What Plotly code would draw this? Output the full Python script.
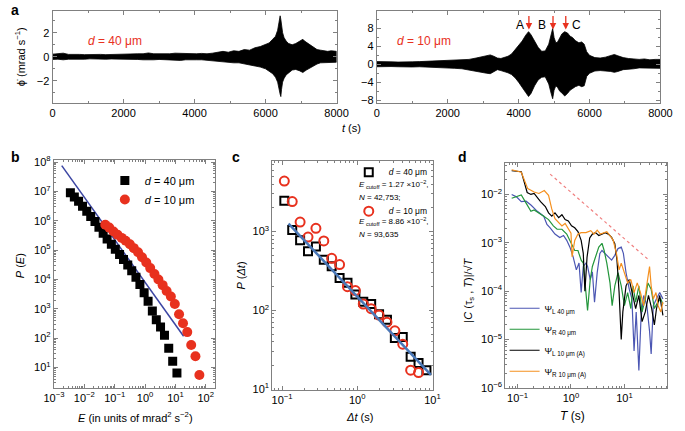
import numpy as np
import plotly.graph_objects as go

W, H = 685, 431
def px(x): return x / W
def py(y): return 1 - y / H

FONT = "Liberation Sans, Arial, Helvetica, sans-serif"
RED = "#e8311e"
FRAME = "#808080"

# ---------------- panel a : signal envelopes (mrad/s) ----------------
t_a40 = [0, 150, 300, 450, 600, 750, 900, 1050, 1200, 1350, 1500, 1650, 1800, 1950, 2100, 2250,
         2400, 2550, 2700, 2850, 3000, 3150, 3300, 3450, 3600, 3750, 3900, 4050, 4200, 4350, 4500,
         4650, 4800, 4950, 5100, 5250, 5400, 5550, 5700, 5850, 6000, 6100, 6200, 6280, 6340, 6380,
         6410, 6430, 6450, 6480, 6520, 6580, 6650, 6750, 6850, 6950, 7050, 7100, 7150, 7250, 7350,
         7450, 7550, 7650, 7750, 7850, 8000]
up_a40 = [0.22, 0.25, 0.3, 0.2, 0.22, 0.2, 0.18, 0.2, 0.17, 0.2, 0.18, 0.2, 0.2, 0.22, 0.2, 0.22,
          0.25, 0.25, 0.32, 0.25, 0.25, 0.22, 0.25, 0.3, 0.28, 0.25, 0.25, 0.25, 0.28, 0.25, 0.3,
          0.4, 0.45, 0.38, 0.5, 0.45, 0.6, 0.55, 0.75, 0.85, 1.0, 1.15, 1.45, 1.7, 2.2, 2.8,
          3.4, 3.1, 2.6, 2.0, 1.6, 1.3, 1.1, 1.0, 1.1, 1.25, 1.45, 1.3, 1.2, 0.95, 0.8,
          0.6, 0.55, 0.5, 0.45, 0.5, 0.45]
low_a40 = [-0.22, -0.2, -0.25, -0.2, -0.18, -0.2, -0.2, -0.17, -0.2, -0.18, -0.2, -0.18, -0.2, -0.2, -0.22, -0.2,
           -0.22, -0.25, -0.28, -0.25, -0.22, -0.25, -0.22, -0.28, -0.3, -0.25, -0.22, -0.25, -0.25, -0.25, -0.3,
           -0.35, -0.4, -0.45, -0.5, -0.5, -0.55, -0.65, -0.75, -0.85, -1.0, -1.2, -1.4, -1.7, -2.1, -2.7,
           -3.1, -3.3, -2.7, -2.1, -1.8, -1.5, -1.3, -1.1, -1.05, -1.15, -1.3, -1.2, -1.1, -0.9, -0.75,
           -0.6, -0.5, -0.5, -0.45, -0.45, -0.45]

t_a10 = [0, 200, 400, 600, 800, 1000, 1200, 1400, 1600, 1800, 2000, 2200, 2400, 2600, 2800, 2950,
         3100, 3200, 3300, 3400, 3500, 3600, 3700, 3800, 3900, 4000, 4100, 4200, 4280, 4350, 4450,
         4550, 4650, 4750, 4850, 4920, 4960, 5000, 5050, 5100, 5160, 5220, 5300, 5380, 5450, 5520,
         5600, 5700, 5780, 5850, 5920, 6000, 6150, 6300, 6450, 6600, 6700, 6800, 6950, 7100, 7250,
         7400, 7550, 7700, 7850, 8000]
up_a10 = [0.6, 0.5, 0.55, 0.5, 0.6, 0.55, 0.6, 0.65, 0.7, 0.75, 0.8, 0.9, 1.0, 1.1, 1.4, 1.7,
          1.9, 2.1, 1.8, 1.4, 1.3, 1.5, 1.8, 2.3, 3.2, 4.2, 5.2, 6.5, 7.3, 6.6, 5.2,
          3.8, 2.9, 3.0, 4.5, 6.5, 8.0, 6.0, 4.8, 5.0, 5.8, 6.8, 7.3, 7.0, 6.3, 6.0,
          5.3, 4.8, 5.0, 4.5, 2.8, 2.0, 1.5, 1.4, 1.6, 2.0, 2.2, 1.9, 1.5, 1.3, 1.2,
          1.1, 1.2, 1.0, 1.1, 1.1]
low_a10 = [-0.55, -0.6, -0.5, -0.55, -0.5, -0.6, -0.55, -0.6, -0.7, -0.7, -0.8, -0.9, -1.0, -1.2, -1.5, -1.8,
           -2.0, -2.1, -1.6, -1.2, -1.4, -1.6, -1.9, -2.3, -3.0, -4.0, -5.0, -6.3, -7.2, -6.5, -4.8,
           -3.5, -2.9, -2.8, -4.4, -6.6, -7.7, -5.8, -4.8, -5.2, -6.0, -6.4, -7.1, -6.5, -5.8, -5.5,
           -5.0, -4.7, -5.0, -4.8, -2.7, -2.0, -1.5, -1.4, -1.5, -1.6, -1.8, -1.6, -1.2, -1.1, -1.0,
           -0.8, -0.9, -0.8, -0.9, -0.9]

peak_labels = ["A", "B", "C"]
peak_t = [4290, 4970, 5330]
peak_val = [7.8, 7.8, 7.8]

# ---------------- panel b : P(E), log10 values ----------------
b40_logE = [-2.46, -2.33, -2.19, -2.06, -1.92, -1.79, -1.65, -1.52, -1.38, -1.25, -1.11, -0.98, -0.84, -0.71,
            -0.57, -0.44, -0.30, -0.17, -0.03, 0.10, 0.24, 0.37, 0.51, 0.64, 0.78, 0.91, 1.05]
b40_logP = [6.96, 6.81, 6.67, 6.50, 6.33, 6.15, 5.98, 5.78, 5.58, 5.38, 5.20, 5.03, 4.85, 4.68,
            4.50, 4.30, 4.08, 3.83, 3.55, 3.26, 2.93, 2.63, 2.38, 2.10, 1.66, 1.22, 0.82]
b10_logE = [-1.31, -1.18, -1.04, -0.91, -0.77, -0.64, -0.50, -0.37, -0.23, -0.10, 0.04, 0.17,
            0.31, 0.44, 0.58, 0.71, 0.85, 0.98, 1.12, 1.25, 1.39, 1.52, 1.66, 1.79]
b10_logP = [5.87, 5.77, 5.64, 5.53, 5.42, 5.32, 5.20, 5.07, 4.93, 4.76, 4.58, 4.39,
            4.19, 4.00, 3.81, 3.61, 3.42, 3.17, 2.82, 2.51, 2.21, 1.77, 1.39, 0.75]
b_fit_logE = [-2.745, 1.27]
b_fit_logP = [7.88, 2.07]

# ---------------- panel c : P(dt), log10 values ----------------
c_logdt = [-0.97, -0.865, -0.76, -0.655, -0.55, -0.445, -0.34, -0.235, -0.13, -0.025, 0.08, 0.185,
           0.29, 0.395, 0.50, 0.605, 0.71, 0.815, 0.92]
c40_logP = [3.39, 3.02, 2.89, 2.75, 2.81, 2.64, 2.56, 2.41, 2.35, 2.20, 2.11, 2.08,
            1.95, 1.88, 1.65, 1.66, 1.41, 1.33, 1.24]
c10_logP = [3.64, 3.38, 3.12, 2.93, 3.04, 2.88, 2.66, 2.58, 2.30, 2.25, 2.08, 2.02,
            1.94, 1.85, 1.74, 1.57, 1.24, 1.21]
c_fit_logdt = [-0.914, 0.98]
c_fit_logP = [3.10, 1.18]

# ---------------- panel d : |C|/sqrt(T), log10 values ----------------
dL40_logT = [-1.11, -1.02, -0.93, -0.84, -0.75, -0.63, -0.51, -0.45, -0.39, -0.30, -0.21, -0.14, -0.08,
             -0.02, 0.04, 0.10, 0.15, 0.19, 0.23, 0.28, 0.31, 0.36, 0.40, 0.44, 0.49, 0.54, 0.58,
             0.64, 0.70, 0.76, 0.82, 0.88, 0.94, 0.98, 1.03, 1.09, 1.14, 1.18, 1.22, 1.27, 1.31,
             1.36, 1.42, 1.47, 1.50, 1.54, 1.60, 1.66, 1.72]
dL40_logC = [-2.00, -2.05, -2.15, -2.14, -2.22, -2.35, -2.45, -2.62, -2.69, -2.82, -2.89, -2.85, -2.95,
             -3.09, -3.29, -3.56, -3.42, -4.03, -3.49, -3.42, -3.49, -3.76, -3.60, -4.23, -3.62, -3.22, -3.16,
             -3.22, -3.29, -3.36, -3.26, -3.12, -3.09, -3.22, -3.62, -3.96, -4.16, -5.24, -4.43, -5.64, -4.56,
             -4.09, -4.30, -4.83, -5.30, -4.30, -4.16, -4.03, -4.16]
dR40_logT = [-1.11, -0.93, -0.84, -0.75, -0.69, -0.60, -0.51, -0.42, -0.33, -0.26, -0.17, -0.08, 0.01,
             0.07, 0.13, 0.19, 0.23, 0.27, 0.31, 0.36, 0.40, 0.46, 0.52, 0.58, 0.62, 0.67, 0.73,
             0.77, 0.82, 0.88, 0.94, 1.00, 1.06, 1.12, 1.16, 1.21, 1.27, 1.33, 1.39, 1.44, 1.50,
             1.56, 1.62, 1.68, 1.72]
dR40_logC = [-2.08, -2.01, -2.18, -2.35, -2.32, -2.38, -2.45, -2.52, -2.65, -2.72, -2.72, -2.82, -3.02,
             -3.16, -3.16, -3.36, -3.42, -4.00, -4.40, -3.76, -3.49, -3.29, -3.09, -3.01, -3.16, -3.42, -3.83,
             -4.30, -3.89, -3.62, -3.89, -4.30, -4.03, -4.36, -3.89, -4.23, -3.89, -4.43, -4.16, -3.83, -3.96,
             -4.36, -4.23, -4.16, -4.27]
dL10_logT = [-1.11, -0.93, -0.82, -0.75, -0.69, -0.63, -0.57, -0.48, -0.42, -0.36, -0.30, -0.23, -0.17,
             -0.11, -0.05, 0.01, 0.07, 0.13, 0.19, 0.23, 0.26, 0.30, 0.35, 0.40, 0.46, 0.52, 0.58,
             0.64, 0.70, 0.76, 0.82, 0.86, 0.90, 0.94, 0.97, 1.03, 1.09, 1.15, 1.21, 1.27, 1.33,
             1.39, 1.45, 1.51, 1.56, 1.60, 1.66, 1.72]
dL10_logC = [-1.51, -1.53, -1.96, -2.00, -1.98, -2.07, -2.15, -2.25, -2.38, -2.45, -2.38, -2.48, -2.42,
             -2.52, -2.55, -2.65, -2.69, -2.77, -2.95, -3.22, -4.00, -3.30, -2.90, -2.82, -2.79, -2.85, -2.82,
             -2.79, -2.82, -2.89, -3.02, -3.36, -4.03, -5.00, -4.43, -3.89, -3.76, -4.09, -4.36, -4.09, -4.63,
             -4.43, -4.09, -4.36, -4.70, -4.36, -4.09, -4.50]
dR10_logT = [-1.11, -0.93, -0.81, -0.69, -0.60, -0.50, -0.42, -0.36, -0.30, -0.23, -0.17, -0.11, -0.05,
             0.00, 0.02, 0.07, 0.13, 0.19, 0.28, 0.37, 0.43, 0.49, 0.55, 0.61, 0.67, 0.73, 0.79,
             0.85, 0.90, 0.94, 1.00, 1.06, 1.12, 1.18, 1.24, 1.30, 1.36, 1.42, 1.47, 1.50, 1.54,
             1.59, 1.63, 1.68, 1.72]
dR10_logC = [-1.49, -1.54, -1.88, -1.95, -1.98, -1.92, -2.02, -2.30, -2.50, -2.58, -2.65, -2.60, -2.72,
             -2.80, -3.29, -2.95, -2.82, -2.79, -2.79, -2.75, -2.82, -2.74, -2.82, -2.79, -2.77, -2.85, -2.95,
             -3.22, -3.56, -3.42, -3.62, -3.83, -3.76, -4.03, -3.83, -4.03, -4.30, -3.89, -3.49, -3.89, -4.16,
             -4.03, -4.30, -4.43, -4.23]
d_guide_logT = [-0.39, 1.44]
d_guide_logC = [-1.58, -3.34]

# tick label exponents for the log axes
b_x_exp = [-3, -2, -1, 0, 1, 2]
b_y_exp = [1, 2, 3, 4, 5, 6, 7, 8]
c_x_exp = [-1, 0, 1]
c_y_exp = [1, 2, 3]
d_x_exp = [-1, 0, 1]
d_y_exp = [-6, -5, -4, -3, -2]

def p10(v):
    return 10 ** np.array(v, dtype=float)

def pow_text(exps):
    return ["10<sup>" + str(e).replace("-", "−") + "</sup>" for e in exps]

fig = go.Figure()

# panel a
for t, up, lo, xa, ya in [(t_a40, up_a40, low_a40, "x", "y"), (t_a10, up_a10, low_a10, "x2", "y2")]:
    fig.add_trace(go.Scatter(x=t + t[::-1], y=up + lo[::-1], fill="toself", fillcolor="black",
                             mode="lines", line=dict(color="black", width=0.8),
                             xaxis=xa, yaxis=ya, showlegend=False, hoverinfo="skip"))

# panel b
fig.add_trace(go.Scatter(x=p10(b_fit_logE), y=p10(b_fit_logP), mode="lines",
                         line=dict(color="#3b45a3", width=1.5), xaxis="x3", yaxis="y3", showlegend=False))
fig.add_trace(go.Scatter(x=p10(b40_logE), y=p10(b40_logP), mode="markers", name="<i>d</i> = 40 μm",
                         marker=dict(symbol="square", size=9, color="black"), xaxis="x3", yaxis="y3",
                         legend="legend"))
fig.add_trace(go.Scatter(x=p10(b10_logE), y=p10(b10_logP), mode="markers", name="<i>d</i> = 10 μm",
                         marker=dict(symbol="circle", size=10, color=RED), xaxis="x3", yaxis="y3",
                         legend="legend"))

# panel c
fig.add_trace(go.Scatter(x=p10(c_logdt), y=p10(c40_logP), mode="markers", name="<i>d</i> = 40 μm",
                         marker=dict(symbol="square-open", size=8, color="black", line=dict(width=2)),
                         xaxis="x4", yaxis="y4", legend="legend2", legendgroup="c40"))
fig.add_trace(go.Scatter(x=p10(c_logdt[:len(c10_logP)]), y=p10(c10_logP), mode="markers", name="<i>d</i> = 10 μm",
                         marker=dict(symbol="circle-open", size=9, color=RED, line=dict(width=2)),
                         xaxis="x4", yaxis="y4", legend="legend2", legendgroup="c10"))
fig.add_trace(go.Scatter(x=p10(c_fit_logdt), y=p10(c_fit_logP), mode="lines",
                         line=dict(color="#4a78b8", width=2.5), xaxis="x4", yaxis="y4", showlegend=False))

# panel d
d_series = [
    (dL40_logT, dL40_logC, "#4b56b3", "Ψ<sub>L 40 μm</sub>", "g1"),
    (dR40_logT, dR40_logC, "#23963b", "Ψ<sub>R 40 μm</sub>", "g2"),
    (dL10_logT, dL10_logC, "black", "Ψ<sub>L 10 μm (A)</sub>", "g3"),
    (dR10_logT, dR10_logC, "#f5901f", "Ψ<sub>R 10 μm (A)</sub>", "g4"),
]
for lt, lc, col, nm, g in d_series:
    fig.add_trace(go.Scatter(x=p10(lt), y=p10(lc), mode="lines", name=nm,
                             line=dict(color=col, width=1.2), xaxis="x5", yaxis="y5",
                             legend="legend3", legendgroup=g))
fig.add_trace(go.Scatter(x=p10(d_guide_logT), y=p10(d_guide_logC), mode="lines",
                         line=dict(color="#f08080", width=1.2, dash="dot"),
                         xaxis="x5", yaxis="y5", showlegend=False))

minor_lin = lambda dt: dict(ticks="inside", ticklen=2, dtick=dt, tickcolor=FRAME, showgrid=False)
minor_log = dict(ticks="inside", ticklen=2, dtick="D1", tickcolor=FRAME, showgrid=False)

def axis(domain, anchor, **kw):
    d = dict(domain=domain, anchor=anchor, showline=True, linecolor=FRAME, linewidth=1, mirror="ticks",
             ticks="inside", ticklen=4, tickcolor=FRAME, tickwidth=1,
             tickfont=dict(size=11, color="black", family=FONT), showgrid=False, zeroline=False)
    d.update(kw)
    return d

def logaxis(domain, anchor, rng, exps):
    return axis(domain, anchor, type="log", range=rng, tickvals=list(p10(exps)),
                ticktext=pow_text(exps), minor=minor_log)

ya_dom = [py(100), py(5)]
layout = dict(
    width=W, height=H, margin=dict(l=0, r=0, t=0, b=0), paper_bgcolor="white", plot_bgcolor="white",
    font=dict(family=FONT, color="black", size=11),
    xaxis=axis([px(44), px(337.4)], "y", range=[0, 8000], dtick=2000, minor=minor_lin(1000)),
    yaxis=axis(ya_dom, "x", range=[-3.85, 3.81], dtick=2, minor=minor_lin(1)),
    xaxis2=axis([px(379), px(672)], "y2", range=[0, 8000], dtick=2000, minor=minor_lin(1000)),
    yaxis2=axis(ya_dom, "x2", range=[-8.7, 11.95], tickvals=[-8, -4, 0, 4, 8], minor=minor_lin(2)),
    xaxis3=logaxis([px(45.3), px(212.3)], "y3", [-3.005, 2.32], b_x_exp),
    yaxis3=logaxis([py(392.5), py(158.5)], "x3", [0.32, 8.07], b_y_exp),
    xaxis4=logaxis([px(271), px(436.7)], "y4", [-1.13, 1.003], c_x_exp),
    yaxis4=logaxis([py(394.5), py(159)], "x4", [0.995, 3.9], c_y_exp),
    xaxis5=logaxis([px(511.7), px(679)], "y5", [-1.23, 1.8], d_x_exp),
    yaxis5=logaxis([py(393), py(162)], "x5", [-6.005, -1.36], d_y_exp),
    legend=dict(x=px(98), y=py(164.5), xanchor="left", yanchor="top", bgcolor="rgba(0,0,0,0)",
                font=dict(size=11, family=FONT), itemwidth=30, tracegroupgap=0),
    legend2=dict(x=px(350), y=py(156), xanchor="left", yanchor="top", bgcolor="rgba(0,0,0,0)",
                 font=dict(size=8.5, family=FONT), itemwidth=30, traceorder="grouped", tracegroupgap=20),
    legend3=dict(x=px(511), y=py(296), xanchor="left", yanchor="top", bgcolor="rgba(0,0,0,0)",
                 font=dict(size=9, family=FONT), itemwidth=30, traceorder="grouped", tracegroupgap=2),
)
fig.update_layout(**layout)

ann = []
def A(text, x, y, size=11, color="black", xanchor="center", yanchor="middle", textangle=0, **kw):
    ann.append(dict(text=text, x=px(x), y=py(y), xref="paper", yref="paper", showarrow=False,
                    font=dict(size=size, color=color, family=FONT), xanchor=xanchor, yanchor=yanchor,
                    textangle=textangle, **kw))

# panel letters
A("<b>a</b>", 5, 4, size=14)
A("<b>b</b>", 6, 155, size=14)
A("<b>c</b>", 234, 155, size=14)
A("<b>d</b>", 467, 155, size=14)

# panel a texts
A("<i>d</i> = 40 μm", 109, 36, size=12, color=RED)
A("<i>d</i> = 10 μm", 428, 36, size=12, color=RED)
A("<i>t</i> (s)", 353, 126, size=11)
A("ϕ̇ (mrad s<sup>−1</sup>)", 10, 52, size=11, textangle=-90)

# axis titles
A("<i>P</i> (<i>E</i>)", 10, 267, size=11, textangle=-90)
A("<i>E</i> (in units of mrad<sup>2</sup> s<sup>−2</sup>)", 130, 423, size=11)
A("<i>P</i> (<i>Δt</i>)", 239, 277, size=11, textangle=-90)
A("<i>Δt</i> (s)", 361, 423, size=11)
A("|<i>C</i> (τ<sub>s</sub> , <i>T</i>)|/√<i>T</i>", 474, 292, size=11, textangle=-90)
A("<i>T</i> (s)", 581, 422, size=12)

# panel c legend extra lines
A("<i>E</i><sub> cutoff</sub> = 1.27 ×10<sup>−2</sup>,", 359, 184, size=8, xanchor="left")
A("<i>N</i> = 42,753;", 358, 197, size=8, xanchor="left")
A("<i>E</i><sub> cutoff</sub> = 8.86 ×10<sup>−2</sup>,", 359, 222, size=8, xanchor="left")
A("<i>N</i> = 93,635", 358, 235, size=8, xanchor="left")

# peak arrows in panel a (right)
for lab, tt, vv in zip(peak_labels, peak_t, peak_val):
    ann.append(dict(x=tt, y=vv, xref="x2", yref="y2", text="", showarrow=True, arrowhead=2,
                    arrowsize=1, arrowwidth=1.3, arrowcolor=RED, ax=0, ay=-15))
A("A", 526.7, 19.5, size=12)
A("B", 549.3, 19.5, size=12)
A("C", 585, 19.5, size=12)

fig.update_layout(annotations=ann)
fig.write_html("out.html", config={"displayModeBar": False},
               post_script="document.body.style.margin='0px';document.body.style.padding='0px';")
